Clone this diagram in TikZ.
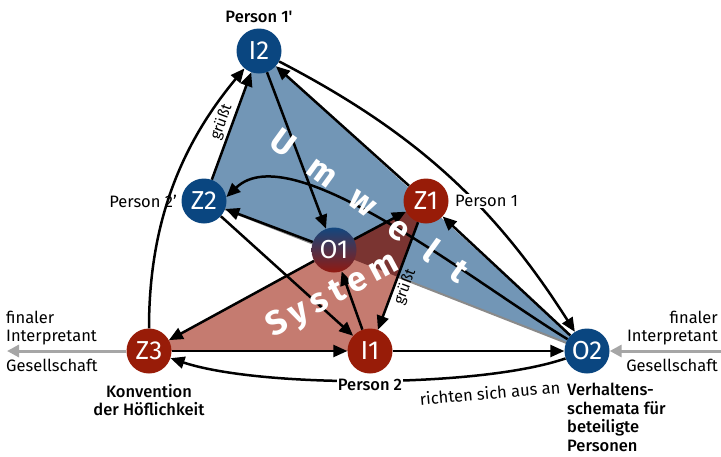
\documentclass[tikz,border=0pt]{standalone}
\usepackage{fontspec}
\setmainfont{Fira Sans}
\newfontfamily\medfont{Fira Sans Medium}
\usetikzlibrary{arrows.meta}
\definecolor{nblue}{HTML}{0A4680}
\definecolor{nred}{HTML}{981C08}
\definecolor{bfill}{HTML}{7296B6}
\definecolor{rfill}{HTML}{C57B70}
\definecolor{ofill}{HTML}{7A3431}
\definecolor{garrow}{HTML}{A6A6A6}
\definecolor{gline}{HTML}{8A8A8A}
\definecolor{otop}{HTML}{12467F}
\definecolor{obot}{HTML}{921A10}
\pgfdeclarelayer{bg}
\pgfsetlayers{bg,main}
\begin{document}
\begin{tikzpicture}[x=1pt,y=-1pt,
  nd/.style={circle, minimum size=45pt, inner sep=0pt, text=white, font=\fontsize{26}{26}\selectfont},
  bnd/.style={nd, fill=nblue},
  rnd/.style={nd, fill=nred},
  arr/.style={-{Triangle[length=14pt,width=12pt]}, line width=2.5pt, black},
  garr/.style={-{Triangle[length=12pt,width=12pt]}, line width=3pt, garrow},
  lbl/.style={font=\fontsize{16.5}{18}\selectfont, inner sep=1pt},
  lblm/.style={font=\medfont\fontsize{16.5}{18.5}\selectfont, inner sep=1pt},
  grl/.style={font=\fontsize{15}{15}\selectfont, inner sep=2pt},
  word/.style={text=white, font=\bfseries\fontsize{34}{34}\selectfont, inner sep=0pt}
]
\useasboundingbox (0,0) rectangle (721,456);

% nodes
\node[bnd] (I2) at (259,51) {I2};
\node[bnd] (Z2) at (204,201) {Z2};
\node[rnd] (Z1) at (426,201) {Z1};
\node[nd, top color=otop, bottom color=obot] (O1) at (334,250) {O1};
\node[rnd] (Z3) at (149,351) {Z3};
\node[rnd] (I1) at (370,351) {I1};
\node[bnd] (O2) at (587,351) {O2};

% background areas
\begin{pgfonlayer}{bg}
  \fill[bfill] (I2.center) -- (Z2.center) -- (O2.center) -- cycle;
  \draw[gline, line width=2pt] (Z2.center) -- (O2.center);
  \fill[rfill] (Z3.center) -- (Z1.center) -- (I1.center) -- cycle;
  \begin{scope}
    \clip (I2.center) -- (Z2.center) -- (O2.center) -- cycle;
    \fill[ofill] (Z3.center) -- (Z1.center) -- (I1.center) -- cycle;
  \end{scope}
\end{pgfonlayer}

% connectors
\draw[arr] (Z2) -- node[midway, sloped, above, grl] {grüßt} (I2);
\draw[arr] (Z3) .. controls (149,226) and (179,147) .. (I2);
\draw[arr] (I2) -- (O1);
\draw[arr] (Z1) -- (I2);
\draw[arr] (I2) .. controls (413,131) and (493,203) .. (O2);
\draw[arr] (O2) -- (Z1);
\draw[arr] (O2) .. controls (470,280) and (291,135) .. (Z2.10);
\draw[arr] (O1) -- (Z2);
\draw[arr] (Z2) -- (I1);
\draw[arr] (O1) -- (Z1);
\draw[arr] (O1) -- (Z3);
\draw[arr] (I1) -- (O1);
\draw[arr] (Z1) -- node[pos=0.57, sloped, below, grl] {grüßt} (I1);
\draw[arr] (Z3) -- (I1);
\draw[arr] (I1) -- (O2);
\draw[arr] (O2) .. controls (480,388) and (260,388) .. (Z3);

% grey arrows
\coordinate (gl) at (7,351);
\coordinate (gr) at (721,351);
\draw[garr] (Z3) -- (gl);
\draw[garr] (gr) -- (O2);

% labels
\node[lblm] (p1p) at (259,17) {Person 1'};
\node[lbl, anchor=east] (p2p) at (178,201) {Person 2'};
\node[lbl, anchor=west, fill=white] (p1) at (454,201) {Person 1};
\node[lblm, fill=white] (p2) at (370,385) {Person 2};
\node[lblm, align=center] (konv) at (149,400) {Konvention\\der Höflichkeit};
\node[lblm, align=left, anchor=north west] (verh) at (566,382) {Verhaltens-\\schemata für\\beteiligte\\Personen};
\node[lbl, rotate=5] (richt) at (490,393) {richten sich aus an};
\node[lbl, align=left, anchor=south west] (fil) at (5,346) {finaler\\Interpretant};
\node[lbl, anchor=north west] (gesl) at (5,358) {Gesellschaft};
\node[lbl, align=right, anchor=south east] (fir) at (719,346) {finaler\\Interpretant};
\node[lbl, anchor=north east] (gesr) at (719,358) {Gesellschaft};

% words
\node[word, rotate=-36] (umwelt) at (370,205) {U\hspace{23.5pt}m\hspace{23.5pt}w\hspace{23.5pt}e\hspace{23.5pt}l\hspace{23.5pt}t};
\node[word, rotate=28, anchor=east] (systeme) at (397,262) {S\hspace{6pt}y\hspace{6pt}s\hspace{6pt}t\hspace{6pt}e\hspace{6pt}m};
\end{tikzpicture}
\end{document}
